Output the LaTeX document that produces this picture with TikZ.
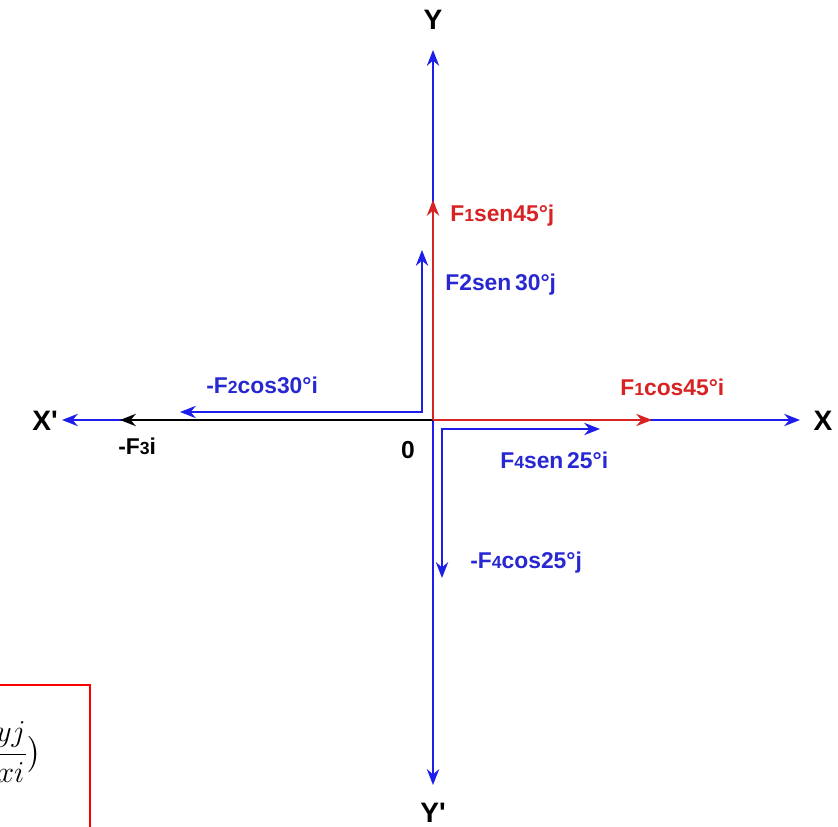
\documentclass[tikz,border=0pt]{standalone}
\usepackage{fontspec}
\setmainfont{Liberation Sans}[Ligatures=TeXOff]
\usepackage{amsmath}
\usetikzlibrary{arrows.meta,positioning}

\definecolor{axisblue}{RGB}{30,30,235}
\definecolor{forcered}{RGB}{215,35,35}
\definecolor{labelblue}{RGB}{40,40,210}
\newcommand{\idx}[1]{{\fontsize{10}{12}\selectfont #1}}

\begin{document}
\begin{tikzpicture}[
    x=0.02cm, y=-0.02cm,
    axislabel/.style={
        font=\fontsize{16}{18}\selectfont\bfseries,
        text=black,
        inner sep=0pt
    },
    forcelabel/.style={
        font=\fontsize{13}{15}\selectfont\bfseries,
        text=#1,
        anchor=west,
        inner sep=0pt
    },
    arrow/.style={-{Stealth[length=9pt,width=7pt]}, line width=1.1pt},
    twoway/.style={{Stealth[length=9pt,width=7pt]}-{Stealth[length=9pt,width=7pt]}, line width=1.1pt}
]
\useasboundingbox (0,0) rectangle (838,827);
\clip (0,0) rectangle (838,827);

% Origin and axis ends
\coordinate (O) at (433,420);
\coordinate (xpos) at (800,420);
\coordinate (xneg) at (62,420);
\coordinate (ypos) at (433,50);
\coordinate (yneg) at (433,785);

% Force tips and corners
\coordinate (f1y) at (433,200);
\coordinate (f1x) at (652,420);
\coordinate (f3x) at (120,420);
\coordinate (f2y) at (422,250);
\coordinate (f2x) at (180,412);
\coordinate (f4x) at (600,429);
\coordinate (f4y) at (442,578);

% Axes
\draw[arrow, draw=axisblue] (O) -- (xpos);
\draw[arrow, draw=axisblue] (O) -- (xneg);
\draw[arrow, draw=axisblue] (O) -- (ypos);
\draw[arrow, draw=axisblue] (O) -- (yneg);

% Components
\draw[arrow, draw=black] (O) -- (f3x);
\draw[twoway, draw=axisblue] (f2x) -| (f2y);
\draw[twoway, draw=axisblue] (f4x) -| (f4y);
\draw[arrow, draw=forcered] (O) -- (f1y);
\draw[arrow, draw=forcered] (O) -- (f1x);

% Axis labels
\node[axislabel] (ylab) at (433,20) {Y};
\node[axislabel] (yneglab) at (433,813) {Y'};
\node[axislabel] (xlab) at (823,421) {X};
\node[axislabel] (xneglab) at (45,421) {X'};
\node[axislabel, font=\fontsize{14}{16}\selectfont\bfseries] (olab) at (408,450) {0};

% Component labels
\node[forcelabel=forcered] (f1ylab) at (450,216) {F\idx{1}sen45°j};
\node[forcelabel=forcered] (f1xlab) at (620,387) {F\idx{1}cos45°i};
\node[forcelabel=labelblue] (f2ylab) at (445,285) {F2sen\,30°j};
\node[forcelabel=labelblue] (f2xlab) at (206,385) {-F\idx{2}cos30°i};
\node[forcelabel=black] (f3xlab) at (118,446) {-F\idx{3}i};
\node[forcelabel=labelblue] (f4xlab) at (500,460) {F\idx{4}sen\,25°i};
\node[forcelabel=labelblue] (f4ylab) at (470,563) {-F\idx{4}cos25°j};

% Boxed result, cut at the left edge
\draw[red, line width=1.2pt] (-10,685) rectangle (90,850);
\node[anchor=east, inner sep=0pt, font=\fontsize{19}{23}\selectfont] (ratio) at (42,752) {$\dfrac{yj}{xi}\big)$};

\end{tikzpicture}
\end{document}
